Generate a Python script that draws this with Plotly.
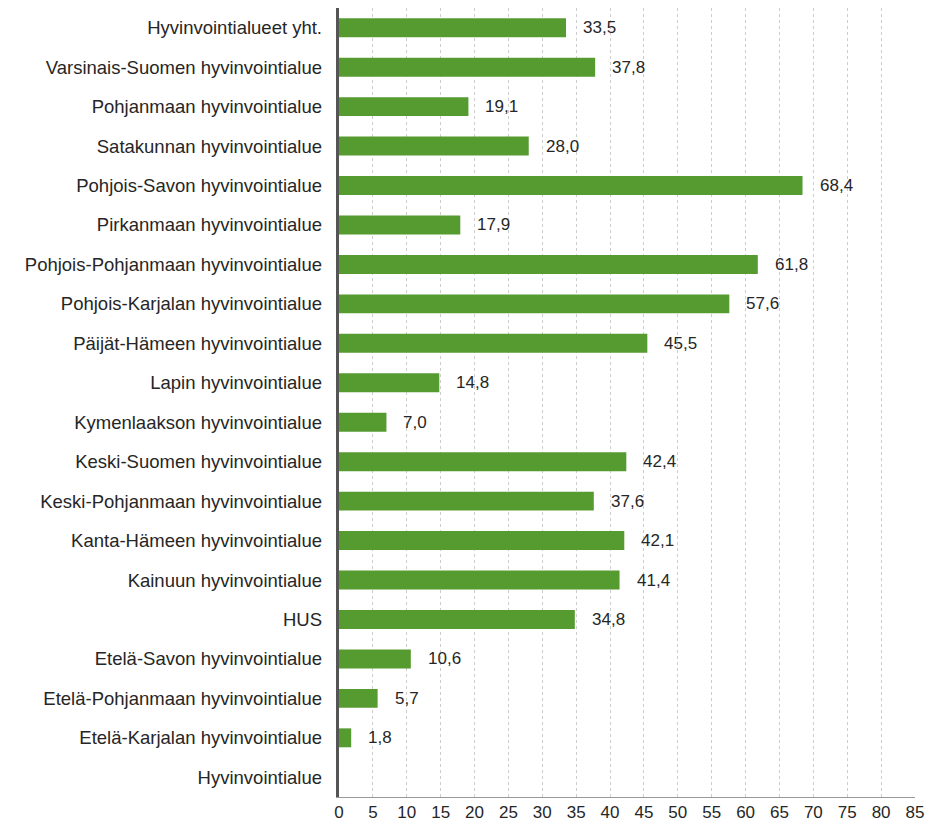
import plotly.graph_objects as go

categories = [
    "Hyvinvointialueet yht.",
    "Varsinais-Suomen hyvinvointialue",
    "Pohjanmaan hyvinvointialue",
    "Satakunnan hyvinvointialue",
    "Pohjois-Savon hyvinvointialue",
    "Pirkanmaan hyvinvointialue",
    "Pohjois-Pohjanmaan hyvinvointialue",
    "Pohjois-Karjalan hyvinvointialue",
    "Päijät-Hämeen hyvinvointialue",
    "Lapin hyvinvointialue",
    "Kymenlaakson hyvinvointialue",
    "Keski-Suomen hyvinvointialue",
    "Keski-Pohjanmaan hyvinvointialue",
    "Kanta-Hämeen hyvinvointialue",
    "Kainuun hyvinvointialue",
    "HUS",
    "Etelä-Savon hyvinvointialue",
    "Etelä-Pohjanmaan hyvinvointialue",
    "Etelä-Karjalan hyvinvointialue",
    "Hyvinvointialue",
]
values = [33.5, 37.8, 19.1, 28.0, 68.4, 17.9, 61.8, 57.6, 45.5, 14.8,
          7.0, 42.4, 37.6, 42.1, 41.4, 34.8, 10.6, 5.7, 1.8, None]
tick_vals = list(range(0, 90, 5))

labels = [("" if v is None else f"{v:.1f}".replace(".", ",")) for v in values]

FONT = "Liberation Sans, Arial"

fig = go.Figure()
fig.add_trace(go.Bar(
    y=categories, x=values, orientation="h",
    marker=dict(color="#569b30", line=dict(width=0)),
    width=0.48,
    hoverinfo="skip",
))

for c, v, t in zip(categories, values, labels):
    if v is None:
        continue
    fig.add_annotation(x=v, y=c, text=t, showarrow=False, xanchor="left",
                       xshift=15, font=dict(family=FONT, size=17, color="#262626"))

fig.update_layout(
    width=920, height=813,
    margin=dict(l=331, r=13, t=0, b=24),
    plot_bgcolor="white", paper_bgcolor="white",
    showlegend=False,
    font=dict(family=FONT, size=18, color="#262626"),
    xaxis=dict(range=[0, 85], tickvals=tick_vals, ticktext=[str(t) for t in tick_vals],
               showgrid=True, gridcolor="#cccccc", griddash="dot", gridwidth=1,
               zeroline=False, showline=True, linecolor="#999999", linewidth=1,
               ticks="", tickfont=dict(size=17), ticklabelstandoff=0,
               automargin=False, fixedrange=True),
    yaxis=dict(categoryorder="array", categoryarray=categories[::-1],
               autorange=False, range=[-0.5, len(categories) - 0.5],
               showgrid=False, zeroline=False, showline=True, linecolor="#555555",
               linewidth=3, ticks="", tickfont=dict(size=18.5), ticksuffix="  ",
               automargin=False),
)

fig.write_html("out.html")
